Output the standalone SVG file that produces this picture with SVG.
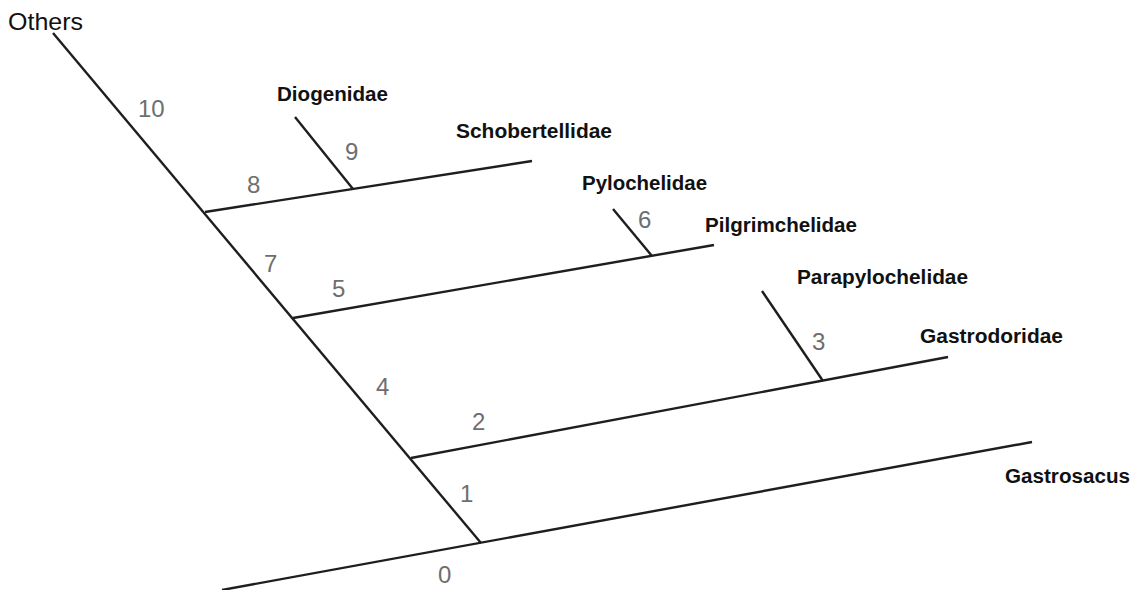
<svg xmlns="http://www.w3.org/2000/svg" width="1135" height="590" viewBox="0 0 1135 590">
<style>
.ln{stroke:#1e1e1e;stroke-width:2.4;stroke-linecap:butt;fill:none}
.tx{font-family:"Liberation Sans",Arial,sans-serif;font-weight:bold;font-size:19.5px;fill:#111}
.num{font-family:"Liberation Sans",Arial,sans-serif;font-size:24px;fill:#6e6e6e}
.oth{font-family:"Liberation Sans",Arial,sans-serif;font-size:24px;fill:#111}
</style>
<rect width="1135" height="590" fill="#fff"/>
<g id="connectors">
<line class="ln" x1="53" y1="33" x2="481" y2="543"/>
<line class="ln" x1="222" y1="590" x2="1032" y2="442"/>
<line class="ln" x1="205" y1="212" x2="532" y2="161"/>
<line class="ln" x1="295" y1="117" x2="353" y2="189"/>
<line class="ln" x1="293" y1="318" x2="714" y2="245"/>
<line class="ln" x1="613" y1="209" x2="652" y2="256"/>
<line class="ln" x1="411" y1="458" x2="948" y2="357"/>
<line class="ln" x1="762" y1="291" x2="823" y2="381"/>
</g>
<g id="node-others"><text class="oth" x="8" y="30" textLength="75" lengthAdjust="spacingAndGlyphs">Others</text></g>
<g id="node-diogenidae"><text class="tx" x="277" y="101" textLength="111" lengthAdjust="spacingAndGlyphs">Diogenidae</text></g>
<g id="node-schobertellidae"><text class="tx" x="456" y="138" textLength="156" lengthAdjust="spacingAndGlyphs">Schobertellidae</text></g>
<g id="node-pylochelidae"><text class="tx" x="582" y="190" textLength="125" lengthAdjust="spacingAndGlyphs">Pylochelidae</text></g>
<g id="node-pilgrimchelidae"><text class="tx" x="705" y="232" textLength="152" lengthAdjust="spacingAndGlyphs">Pilgrimchelidae</text></g>
<g id="node-parapylochelidae"><text class="tx" x="797" y="284" textLength="171" lengthAdjust="spacingAndGlyphs">Parapylochelidae</text></g>
<g id="node-gastrodoridae"><text class="tx" x="920" y="343" textLength="143" lengthAdjust="spacingAndGlyphs">Gastrodoridae</text></g>
<g id="node-gastrosacus"><text class="tx" x="1005" y="483" textLength="125" lengthAdjust="spacingAndGlyphs">Gastrosacus</text></g>
<g id="labels">
<text class="num" x="138" y="117">10</text>
<text class="num" x="345" y="160">9</text>
<text class="num" x="247" y="193">8</text>
<text class="num" x="264" y="272">7</text>
<text class="num" x="332" y="297">5</text>
<text class="num" x="638" y="228">6</text>
<text class="num" x="376" y="395">4</text>
<text class="num" x="472" y="430">2</text>
<text class="num" x="812" y="350">3</text>
<text class="num" x="460" y="502">1</text>
<text class="num" x="438" y="583">0</text>
</g>
</svg>
